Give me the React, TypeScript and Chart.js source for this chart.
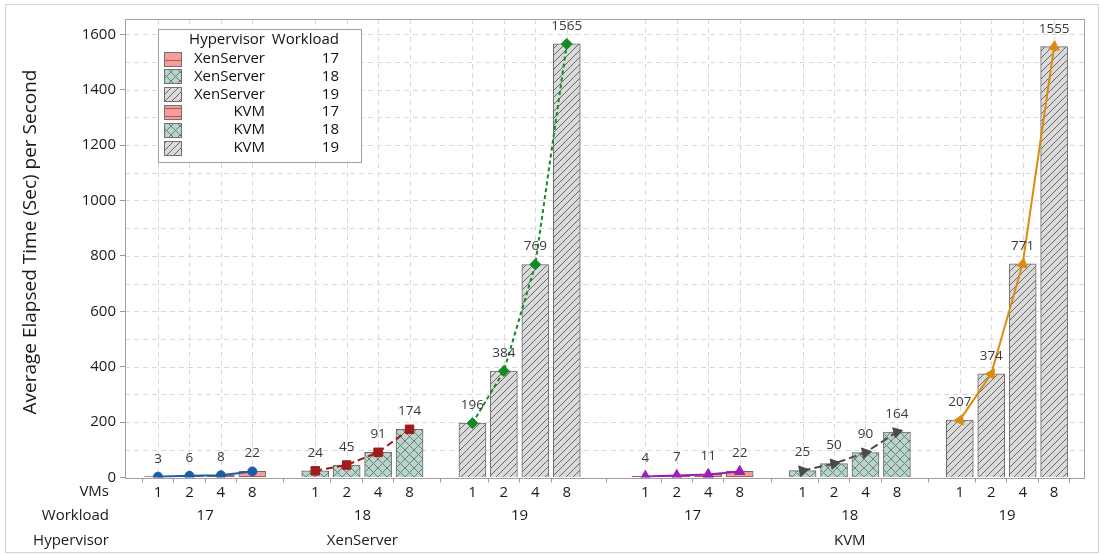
import React, { useEffect, useRef } from 'react';
import { Chart, registerables } from 'chart.js';

Chart.register(...registerables);

// ---- data ----
const hypervisors = ['XenServer', 'KVM'];
const workloads = ['17', '18', '19'];
const vmLabels = ['1', '2', '4', '8'];

const xen17 = [3, 6, 8, 22];
const xen18 = [24, 45, 91, 174];
const xen19 = [196, 384, 769, 1565];
const kvm17 = [4, 7, 11, 22];
const kvm18 = [25, 50, 90, 164];
const kvm19 = [207, 374, 771, 1555];

const yTitle = 'Average Elapsed Time (Sec) per Second';
const yMajorStep = 200;
const yMinorStep = 100;
const yMax = 1655;

const FONT = '"Open Sans", "Noto Sans", sans-serif';

// slot layout: 4 bars per workload, 1 empty slot between workloads, 1.5 between hypervisors
const slotOf = (h: number, w: number, v: number) => h * 15.5 + w * 5 + v;

type Series = { h: number; w: number; values: number[]; color: string; dash: number[]; point: string; radius: number; rot: number[] };

const series: Series[] = [
  { h: 0, w: 0, values: xen17, color: '#1d5ba8', dash: [], point: 'circle', radius: 4.5, rot: [0, 0, 0, 0] },
  { h: 0, w: 1, values: xen18, color: '#a01c1c', dash: [7, 4], point: 'rect', radius: 6, rot: [0, 0, 0, 0] },
  { h: 0, w: 2, values: xen19, color: '#138a25', dash: [4, 3], point: 'rectRot', radius: 5.5, rot: [0, 0, 0, 0] },
  { h: 1, w: 0, values: kvm17, color: '#9a1eb8', dash: [], point: 'triangle', radius: 6, rot: [0, 0, 0, 0] },
  { h: 1, w: 1, values: kvm18, color: '#4a4a4a', dash: [8, 4], point: 'triangle', radius: 6, rot: [80, 80, 80, 75] },
  { h: 1, w: 2, values: kvm19, color: '#db8c0c', dash: [], point: 'triangle', radius: 6, rot: [-95, 30, 10, 5] },
];

const patternStyle: Record<string, { fill: string; line: string; size: number }> = {
  '17': { fill: '#f29e9a', line: '#bf5552', size: 8 },
  '18': { fill: '#b8d5cb', line: '#6f7d78', size: 9 },
  '19': { fill: '#dadada', line: '#676767', size: 7 },
};

function makePattern(ctx: CanvasRenderingContext2D, kind: string): CanvasPattern | string {
  const st = patternStyle[kind];
  const s = st.size;
  const c = document.createElement('canvas');
  c.width = s;
  c.height = s;
  const g = c.getContext('2d')!;
  g.fillStyle = st.fill;
  g.fillRect(0, 0, s, s);
  g.strokeStyle = st.line;
  g.fillStyle = st.line;
  g.lineWidth = 1;
  if (kind === '17') {
    g.fillRect(0, Math.floor(s / 2), s, 1);
  } else if (kind === '18') {
    g.beginPath();
    for (const o of [-s, 0, s]) {
      g.moveTo(o, 0);
      g.lineTo(o + s, s);
      g.moveTo(o, s);
      g.lineTo(o + s, 0);
    }
    g.stroke();
  } else {
    g.beginPath();
    for (const o of [-s, 0, s]) {
      g.moveTo(o, s);
      g.lineTo(o + s, 0);
    }
    g.stroke();
  }
  return ctx.createPattern(c, 'repeat') || st.fill;
}

export default function App() {
  const ref = useRef<HTMLCanvasElement | null>(null);

  useEffect(() => {
    const canvas = ref.current!;
    const ctx0 = canvas.getContext('2d')!;
    const patterns: Record<string, CanvasPattern | string> = {};
    workloads.forEach((w) => (patterns[w] = makePattern(ctx0, w)));

    const positions: number[] = [];
    hypervisors.forEach((_, h) => workloads.forEach((_, w) => vmLabels.forEach((_, v) => positions.push(slotOf(h, w, v)))));

    const datasets: any[] = [];
    series.forEach((s) => {
      const pts = s.values.map((y, v) => ({ x: slotOf(s.h, s.w, v), y }));
      datasets.push({
        type: 'bar',
        data: pts,
        backgroundColor: patterns[workloads[s.w]],
        borderColor: '#6b6b6b',
        borderWidth: 1,
        barThickness: 27,
        grouped: false,
        order: 2,
        isBar: true,
      });
      datasets.push({
        type: 'line',
        data: pts,
        borderColor: s.color,
        backgroundColor: s.color,
        borderWidth: 2,
        borderDash: s.dash,
        pointStyle: s.point,
        pointRadius: s.radius,
        pointBorderWidth: 1,
        pointRotation: s.rot,
        tension: 0,
        order: 1,
      });
    });

    const decor = {
      id: 'decor',
      beforeDraw(chart: any) {
        const c = chart.ctx;
        c.save();
        c.fillStyle = '#ffffff';
        c.fillRect(0, 0, chart.width, chart.height);
        c.strokeStyle = '#d4d4d4';
        c.lineWidth = 1;
        c.strokeRect(5.5, 4.5, 1093, 548);
        c.restore();
      },
      beforeDatasetsDraw(chart: any) {
        const c = chart.ctx;
        const a = chart.chartArea;
        const xs = chart.scales.x;
        const ys = chart.scales.y;
        c.save();
        c.strokeStyle = '#d9d9d9';
        c.lineWidth = 1;
        c.setLineDash([5, 4]);
        c.beginPath();
        for (let v = yMinorStep; v <= yMax; v += yMinorStep) {
          const y = Math.round(ys.getPixelForValue(v)) + 0.5;
          c.moveTo(a.left, y);
          c.lineTo(a.right, y);
        }
        positions.forEach((p) => {
          const x = Math.round(xs.getPixelForValue(p)) + 0.5;
          c.moveTo(x, a.top);
          c.lineTo(x, a.bottom);
        });
        c.stroke();
        c.setLineDash([]);
        c.strokeStyle = '#a0a0a0';
        c.strokeRect(Math.round(a.left) + 0.5, Math.round(a.top) + 0.5, Math.round(a.right - a.left), Math.round(a.bottom - a.top));
        c.restore();

        // y-axis title
        c.save();
        c.translate(31, 242);
        c.rotate(-Math.PI / 2);
        c.font = `19px ${FONT}`;
        c.fillStyle = '#1a1a1a';
        c.textAlign = 'center';
        c.textBaseline = 'middle';
        c.fillText(yTitle, 0, 0);
        c.restore();
      },
      afterDatasetsDraw(chart: any) {
        const c = chart.ctx;
        const xs = chart.scales.x;
        c.save();
        // value labels
        c.font = `13.5px ${FONT}`;
        c.fillStyle = '#3a3a3a';
        c.textAlign = 'center';
        c.textBaseline = 'middle';
        chart.data.datasets.forEach((ds: any, i: number) => {
          if (!ds.isBar) return;
          const meta = chart.getDatasetMeta(i);
          meta.data.forEach((el: any, j: number) => {
            c.fillText(String(ds.data[j].y), el.x, el.y - 18);
          });
        });

        // bottom category rows
        c.font = `15px ${FONT}`;
        c.fillStyle = '#1a1a1a';
        hypervisors.forEach((hv, h) => {
          workloads.forEach((wl, w) => {
            const cx = (xs.getPixelForValue(slotOf(h, w, 0)) + xs.getPixelForValue(slotOf(h, w, 3))) / 2;
            c.fillText(wl, cx, 516);
          });
          const hx = (xs.getPixelForValue(slotOf(h, 0, 0)) + xs.getPixelForValue(slotOf(h, 2, 3))) / 2;
          c.fillText(hv, hx, 541);
        });
        c.textAlign = 'right';
        c.fillText('VMs', 109, 492);
        c.fillText('Workload', 109, 516);
        c.fillText('Hypervisor', 109, 541);

        // legend
        const lx = 158.5, ly = 29.5, lw = 203, lh = 133;
        c.fillStyle = '#ffffff';
        c.fillRect(lx, ly, lw, lh);
        c.strokeStyle = '#a0a0a0';
        c.lineWidth = 1;
        c.strokeRect(lx, ly, lw, lh);
        c.fillStyle = '#111111';
        c.font = `15px ${FONT}`;
        c.textAlign = 'right';
        c.fillText('Hypervisor', 265, 40);
        c.fillText('Workload', 339, 40);
        let row = 0;
        hypervisors.forEach((hv) => {
          workloads.forEach((wl) => {
            const cy = 58.5 + row * 17.9;
            c.fillStyle = patterns[wl] as any;
            c.fillRect(164.5, Math.round(cy - 7) + 0.5, 17, 14);
            c.strokeStyle = '#707070';
            c.strokeRect(164.5, Math.round(cy - 7) + 0.5, 17, 14);
            c.fillStyle = '#111111';
            c.fillText(hv, 265, cy);
            c.fillText(wl, 339, cy);
            row++;
          });
        });
        c.restore();
      },
    };

    const chart = new Chart(canvas, {
      type: 'bar',
      data: { datasets },
      options: {
        animation: false,
        responsive: false,
        layout: { padding: { left: 0, top: 19, right: 20, bottom: 0 } },
        plugins: { legend: { display: false }, tooltip: { enabled: false } },
        scales: {
          x: {
            type: 'linear',
            min: -1.05,
            max: 29.45,
            offset: false,
            afterBuildTicks: (s: any) => {
              s.ticks = positions.map((v) => ({ value: v }));
            },
            afterFit: (s: any) => {
              s.height = 77.5;
            },
            ticks: {
              autoSkip: false,
              maxRotation: 0,
              padding: 1,
              font: { family: FONT, size: 15 },
              color: '#1a1a1a',
              callback: (_v: any, i: number) => vmLabels[i % vmLabels.length],
            },
            grid: { drawOnChartArea: false, tickLength: 5, color: '#9a9a9a' },
            border: { display: false },
          },
          y: {
            min: 0,
            max: yMax,
            afterFit: (s: any) => {
              s.width = 125;
            },
            ticks: {
              stepSize: yMinorStep,
              includeBounds: false,
              autoSkip: false,
              padding: 4,
              font: { family: FONT, size: 15 },
              color: '#1a1a1a',
              callback: (v: any) => (Number(v) % yMajorStep === 0 ? String(v) : ''),
            },
            grid: {
              drawOnChartArea: false,
              tickLength: 5,
              color: '#9a9a9a',
              tickColor: (c: any) => (c.tick && c.tick.value % yMajorStep === 0 ? '#9a9a9a' : 'rgba(0,0,0,0)'),
            },
            border: { display: false },
          },
        },
      } as any,
      plugins: [decor],
    });
    return () => chart.destroy();
  }, []);

  return (
    <div style={{ position: 'fixed', left: 0, top: 0, width: 1104, height: 555, background: '#fff' }}>
      <canvas ref={ref} width={1104} height={555} />
    </div>
  );
}
